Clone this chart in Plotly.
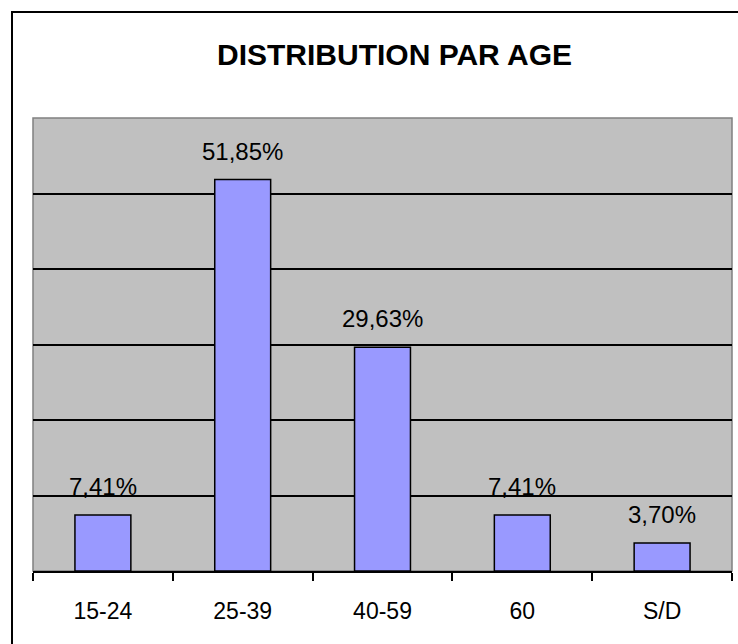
import plotly.graph_objects as go

categories = ["15-24", "25-39", "40-59", "60", "S/D"]
values = [7.41, 51.85, 29.63, 7.41, 3.70]
labels = ["7,41%", "51,85%", "29,63%", "7,41%", "3,70%"]

W, H = 738, 644
L, R, T, B = 33, 6, 118, 73

fig = go.Figure()
fig.add_trace(go.Bar(
    x=categories, y=values, width=0.4,
    marker=dict(color="#9999FF", line=dict(color="black", width=1.5)),
    hoverinfo="skip",
))

for i, (v, t) in enumerate(zip(values, labels)):
    fig.add_annotation(x=i, y=v, text=t, showarrow=False, xref="x", yref="y",
                       yanchor="bottom", yshift=13,
                       font=dict(family="Liberation Sans, Arial", size=24, color="black"))

pw, ph = W - L - R, H - T - B
fig.add_annotation(x=(394.5 - L) / pw, y=(H - B - 55) / ph,
                   xref="paper", yref="paper", text="<b>DISTRIBUTION PAR AGE</b>",
                   showarrow=False, xanchor="center", yanchor="middle",
                   font=dict(family="Liberation Sans, Arial", size=30, color="black"))

# outer chart border (top and left visible only) as one open path
x_left = (12 - L) / pw
y_top = (H - B - 12) / ph
x_right = (W - L) / pw
y_bot = -B / ph
fig.add_shape(type="path", xref="paper", yref="paper",
              path=f"M {x_left},{y_bot} L {x_left},{y_top} L {x_right},{y_top}",
              line=dict(color="black", width=2), fillcolor="rgba(0,0,0,0)", layer="above")
# plot area border
fig.add_shape(type="rect", xref="paper", yref="paper", x0=0, x1=1, y0=0, y1=1,
              line=dict(color="#808080", width=1.5), fillcolor="rgba(0,0,0,0)", layer="below")

fig.update_layout(
    width=W, height=H,
    margin=dict(l=L, r=R, t=T, b=B),
    paper_bgcolor="white", plot_bgcolor="#C0C0C0",
    showlegend=False,
    font=dict(family="Liberation Sans, Arial", size=23, color="black"),
)
fig.update_xaxes(type="category", tickson="boundaries", ticks="outside", ticklen=8,
                 tickwidth=1.5, tickcolor="black", showline=True, linecolor="black",
                 linewidth=1.5, showgrid=False, tickfont=dict(size=23, color="black"),
                 range=[-0.5, 4.5], ticklabelstandoff=19)
fig.update_yaxes(range=[0, 60], dtick=10, showgrid=True, gridcolor="black", gridwidth=1.5,
                 showticklabels=False, zeroline=False, showline=False)

fig.write_html("out.html", config={"displayModeBar": False})
